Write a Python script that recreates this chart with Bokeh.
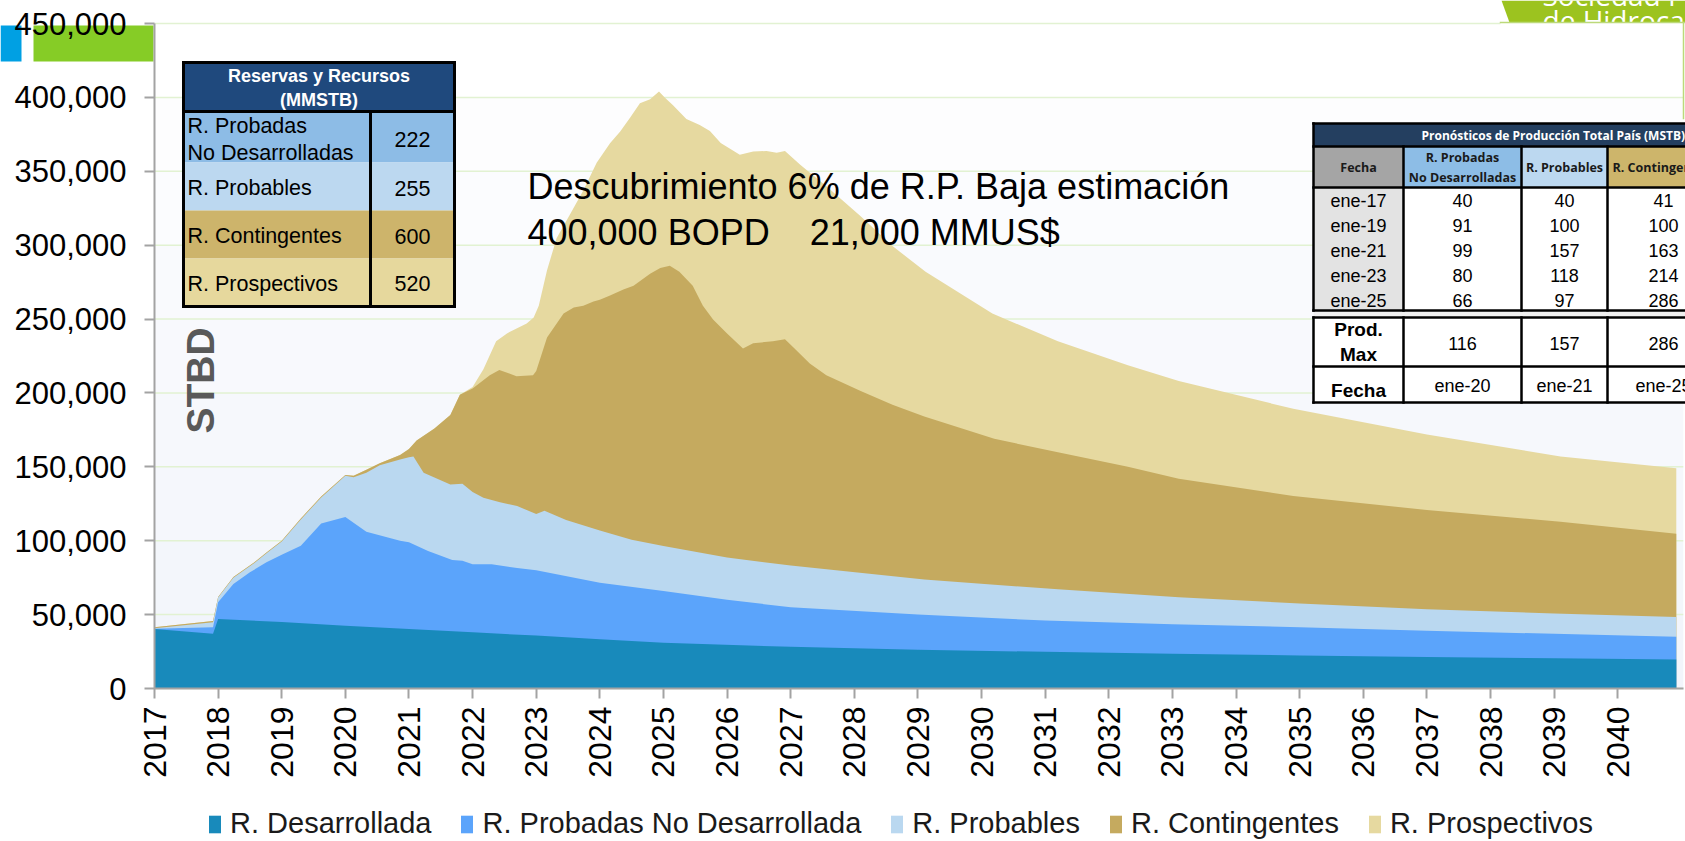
import numpy as np
from bokeh.plotting import figure
from bokeh.models import (Range1d, FixedTicker, NumeralTickFormatter, Label,
                          BoxAnnotation, PolyAnnotation, Legend, LegendItem,
                          ColumnDataSource)
from bokeh.embed import file_html
from bokeh.resources import INLINE

# ---------------- data: cumulative stack tops, thousand STBD ----------------
SCALE = 1000

# R. Desarrollada (top of stack level 1)
t_des = [2017.0, 2017.92, 2018.0, 2019.0, 2020.0, 2021.0, 2022.0, 2023.0, 2024.0,
         2025.0, 2027.0, 2029.0, 2031.0, 2033.0, 2035.0, 2037.0, 2039.0, 2040.92]
cum_des = [40.3, 37.0, 47.0, 45.0, 42.5, 40.3, 38.0, 35.8, 33.4,
           31.0, 28.2, 26.3, 24.8, 23.5, 22.4, 21.4, 20.5, 19.6]

# + R. Probadas No Desarrollada
t_pnd = [2017.0, 2017.92, 2018.0, 2018.24, 2018.5, 2018.76, 2019.0, 2019.3, 2019.62, 2020.0,
         2020.33, 2020.86, 2021.0, 2021.3, 2021.68, 2021.84, 2022.0, 2022.3, 2022.7, 2023.0,
         2024.0, 2025.0, 2026.0, 2027.0, 2029.0, 2031.0, 2033.0, 2035.0, 2037.0, 2039.0, 2040.92]
cum_pnd = [40.5, 41.5, 58.3, 70.7, 78.6, 85.4, 90.5, 96.6, 111.7, 116.0,
           106.0, 100.0, 99.0, 93.0, 87.0, 86.5, 84.0, 84.0, 81.5, 80.0,
           71.5, 66.0, 60.0, 55.0, 50.0, 46.0, 43.5, 41.5, 39.0, 37.0, 35.0]

# + R. Probables
t_prob = [2017.0, 2017.92, 2018.0, 2018.24, 2018.57, 2018.76, 2019.0, 2019.3, 2019.62, 2020.0,
          2020.13, 2020.33, 2020.54, 2020.86, 2021.0, 2021.07, 2021.23, 2021.65, 2021.84, 2022.0,
          2022.17, 2022.43, 2022.7, 2023.0, 2023.13, 2023.47, 2024.0, 2024.5, 2025.0, 2026.0,
          2027.0, 2029.1, 2031.2, 2033.1, 2035.0, 2037.0, 2039.0, 2040.92]
cum_prob = [40.7, 44.8, 61.6, 75.0, 85.0, 91.5, 99.5, 114.4, 129.3, 143.9,
            143.0, 146.0, 151.0, 155.0, 156.5, 157.0, 146.0, 138.0, 138.5, 133.0,
            129.0, 126.0, 123.5, 118.0, 120.2, 114.0, 107.0, 100.7, 96.5, 88.6,
            83.2, 73.8, 67.1, 61.8, 57.5, 53.7, 50.8, 48.3]

# + R. Contingentes
t_cont = [2017.0, 2017.92, 2018.0, 2018.24, 2018.57, 2018.76, 2019.0, 2019.3, 2019.62, 2020.0,
          2020.13, 2020.33, 2020.54, 2020.86, 2021.0, 2021.12, 2021.4, 2021.65, 2021.8, 2022.0,
          2022.27, 2022.42, 2022.69, 2022.95, 2023.0, 2023.17, 2023.43, 2023.59, 2023.74, 2023.9,
          2024.0, 2024.16, 2024.37, 2024.53, 2024.79, 2024.95, 2025.1, 2025.25, 2025.46, 2025.62,
          2025.78, 2026.0, 2026.25, 2026.41, 2026.72, 2026.91, 2027.04, 2027.3, 2027.56, 2028.1,
          2028.6, 2029.1, 2030.2, 2031.2, 2032.3, 2033.1, 2034.9, 2037.0, 2039.1, 2040.92]
cum_cont = [41.5, 45.7, 62.0, 75.5, 85.5, 92.0, 100.0, 115.0, 130.0, 144.5,
            144.0, 148.0, 152.5, 158.0, 162.0, 167.8, 176.0, 185.0, 198.7, 203.0,
            212.0, 215.6, 211.3, 212.0, 214.8, 237.6, 253.7, 257.8, 259.0, 261.8,
            263.0, 266.0, 270.0, 272.5, 280.6, 284.6, 286.0, 282.0, 272.5, 259.0,
            249.7, 240.3, 230.0, 233.6, 235.0, 236.3, 230.9, 220.0, 212.0, 201.4,
            192.0, 184.0, 169.0, 159.8, 150.0, 142.0, 130.2, 120.8, 112.8, 104.7]

# + R. Prospectivos (total)
t_pros = [2017.0, 2017.92, 2018.0, 2018.24, 2018.57, 2018.76, 2019.0, 2019.3, 2019.62, 2020.0,
          2020.13, 2020.33, 2020.54, 2020.86, 2021.0, 2021.12, 2021.4, 2021.65, 2021.8, 2022.0,
          2022.17, 2022.37, 2022.54, 2022.85, 2022.96, 2023.04, 2023.17, 2023.32, 2023.53, 2023.74,
          2023.95, 2024.16, 2024.32, 2024.48, 2024.63, 2024.79, 2024.93, 2025.02, 2025.15, 2025.36,
          2025.57, 2025.73, 2025.9, 2026.2, 2026.41, 2026.62, 2026.78, 2026.91, 2027.15, 2027.57,
          2028.1, 2028.6, 2029.12, 2030.17, 2031.2, 2032.3, 2033.1, 2034.9, 2037.0, 2039.1, 2040.92]
cum_pros = [41.5, 45.7, 62.0, 75.5, 85.5, 92.0, 100.0, 115.0, 130.0, 144.5,
            144.0, 148.0, 152.5, 158.0, 162.0, 167.8, 176.0, 185.0, 198.7, 204.0,
            216.0, 235.0, 240.3, 247.0, 251.0, 259.0, 283.0, 304.7, 320.8, 337.0,
            355.8, 369.0, 377.0, 386.6, 396.0, 398.7, 404.0, 400.0, 394.7, 385.3,
            381.3, 377.2, 369.2, 361.1, 363.3, 363.8, 362.5, 363.8, 354.4, 339.6,
            319.5, 299.4, 282.0, 253.7, 235.0, 218.8, 208.0, 189.3, 171.8, 157.0, 149.0]

series_names = ["R. Desarrollada", "R. Probadas No Desarrollada", "R. Probables",
                "R. Contingentes", "R. Prospectivos"]
series_colors = ["#188abb", "#5ba4fb", "#bad8f0", "#c5aa5f", "#e6d9a0"]

years = list(range(2017, 2041))
y_ticks = list(range(0, 450001, 50000))

# table 1
t1_title = ["Reservas y Recursos", "(MMSTB)"]
t1_labels = [["R. Probadas", "No Desarrolladas"], ["R. Probables"], ["R. Contingentes"], ["R. Prospectivos"]]
t1_values = ["222", "255", "600", "520"]
t1_colors = ["#8dbce6", "#bcd8f0", "#cdb46b", "#e6d89d"]

# table 2
t2_title = "Pronósticos de Producción Total País (MSTB)"
t2_dates = ["ene-17", "ene-19", "ene-21", "ene-23", "ene-25"]
t2_pnd = ["40", "91", "99", "80", "66"]
t2_prob = ["40", "100", "157", "118", "97"]
t2_cont = ["41", "100", "163", "214", "286"]
t2_max = ["116", "157", "286"]
t2_max_date = ["ene-20", "ene-21", "ene-25"]

NB = "\u00a0"
annot_lines = ["Descubrimiento 6% de R.P. Baja estimación",
               "400,000 BOPD" + NB * 4 + "21,000 MMUS$"]
logo_lines = ["Sociedad Peruana", "de Hidrocarburos"]

# ---------------- figure: frame covers the whole canvas ----------------
W, H = 1685, 841
AX_L, AX_T, AX_B = 154, 23, 688      # page px of 2017 / 450,000 / 0
PX_PER_YEAR = 63.62
V_PER_PX = 450000 / (AX_B - AX_T)
X_AXIS_END = 2041.03

x0 = 2017 - AX_L / PX_PER_YEAR
x1 = x0 + W / PX_PER_YEAR
y1 = AX_B * V_PER_PX
y0 = -(H - AX_B) * V_PER_PX

p = figure(width=W, height=H, output_backend="svg", toolbar_location=None, title=None,
           x_range=Range1d(x0, x1), y_range=Range1d(y0, y1),
           min_border_left=0, min_border_right=0, min_border_top=0, min_border_bottom=0,
           background_fill_color="#ffffff", border_fill_color="#ffffff",
           outline_line_color=None)
p.xgrid.visible = False
p.ygrid.visible = False

# light background gradient bands inside the chart area
band_colors = ["#f2f5fb", "#f3f6fb", "#f5f7fc", "#f6f8fc", "#f8f9fd",
               "#f9fafd", "#fbfcfe", "#fdfdfe", "#ffffff"]
for k, c in enumerate(band_colors):
    p.add_layout(BoxAnnotation(left=2017, right=X_AXIS_END,
                               bottom=y_ticks[k], top=y_ticks[k] + 50000,
                               fill_color=c, fill_alpha=1, line_color=None, level="image"))

# horizontal grid lines
p.segment(x0=[2017] * len(y_ticks), x1=[X_AXIS_END] * len(y_ticks), y0=y_ticks, y1=y_ticks,
          line_color="#e2f2d2", line_width=1.5, level="underlay")

# stacked areas, painted from the top level down
renderers = {}
stack = [(t_pros, cum_pros, 4), (t_cont, cum_cont, 3), (t_prob, cum_prob, 2),
         (t_pnd, cum_pnd, 1), (t_des, cum_des, 0)]
for t, v, idx in stack:
    src = ColumnDataSource(dict(x=t, y1=[0] * len(t), y2=[val * SCALE for val in v]))
    renderers[idx] = p.varea(x="x", y1="y1", y2="y2", source=src,
                             fill_color=series_colors[idx], fill_alpha=1)

# axes drawn at fixed locations inside the full-canvas frame
FONT = "Liberation Sans"
p.xaxis.fixed_location = 0
p.yaxis.fixed_location = 2017
p.xaxis.bounds = (2017, X_AXIS_END)
p.yaxis.bounds = (0, 450000)
p.xaxis.ticker = FixedTicker(ticks=years)
p.xaxis.major_label_orientation = np.pi / 2
p.xaxis.major_label_standoff = 8
p.xaxis.major_label_text_font_size = "32px"
p.yaxis.ticker = FixedTicker(ticks=y_ticks)
p.yaxis.formatter = NumeralTickFormatter(format="0,0")
p.yaxis.major_label_standoff = 18
p.yaxis.major_label_text_font_size = "31px"
for ax in (p.xaxis, p.yaxis):
    ax.major_label_text_font = FONT
    ax.major_label_text_color = "#000000"
    ax.axis_line_color = "#a3a3a3"
    ax.axis_line_width = 2
    ax.major_tick_line_color = "#a3a3a3"
    ax.major_tick_line_width = 2
    ax.major_tick_out = 10
    ax.major_tick_in = 0
    ax.minor_tick_line_color = None


# ---------------- helpers in page pixel coordinates ----------------
def sx(X):
    return X


def sy(Y):
    return H - Y


def box(xa, ya, xb, yb, fill, level="annotation"):
    p.add_layout(BoxAnnotation(left=sx(xa), right=sx(xb), top=sy(ya), bottom=sy(yb),
                               left_units="screen", right_units="screen",
                               top_units="screen", bottom_units="screen",
                               fill_color=fill, fill_alpha=1, line_color=None, level=level))


def hline(xa, xb, y, w=2.5, color="#000000"):
    box(xa - w / 2, y - w / 2, xb + w / 2, y + w / 2, color)


def vline(x, ya, yb, w=2.5, color="#000000"):
    box(x - w / 2, ya - w / 2, x + w / 2, yb + w / 2, color)


def text(X, Y, s, size, bold=False, color="#000000", align="center", font=FONT,
         baseline="middle", angle=0.0):
    p.add_layout(Label(x=sx(X), y=sy(Y), x_units="screen", y_units="screen", text=s,
                       text_font=font, text_font_size=f"{size}px",
                       text_font_style="bold" if bold else "normal",
                       text_color=color, text_align=align, text_baseline=baseline,
                       angle=angle))


# slide decorations (top-left bars, top-right logo strip)
box(0, 25, 21, 61, "#00a0e3", level="image")
box(33, 25, 153, 61, "#86cc26", level="image")
p.add_layout(PolyAnnotation(xs=[sx(1501), sx(1700), sx(1700), sx(1509)],
                            ys=[sy(0), sy(0), sy(22), sy(22)],
                            xs_units="screen", ys_units="screen",
                            fill_color="#9cc31f", fill_alpha=1, line_color=None))
text(1542, -6, logo_lines[0], 28, color="#ffffff", align="left", font="Open Sans")
text(1542, 19, logo_lines[1], 28, color="#ffffff", align="left", font="Open Sans")
box(1500, 22, 1700, 45, "#ffffff")
hline(1500, 1700, 22, w=1.5, color="#bcd97a")
vline(1683, 22, 118, w=1.5, color="#bcd97a")

# STBD label
text(200, 380, "STBD", 39, bold=True, color="#595959", angle=np.pi / 2)

# annotation
text(527, 186, annot_lines[0], 36, align="left")
text(527, 232, annot_lines[1], 36, align="left")

# ---------------- table 1 ----------------
T1X0, T1X1, T1XD = 183, 454, 370
t1_rows = [111, 162, 210, 258, 306]
box(T1X0, 62, T1X1, 111, "#1f497d")
for i, c in enumerate(t1_colors):
    box(T1X0, t1_rows[i], T1X1, t1_rows[i + 1], c)
hline(T1X0, T1X1, 62, 3)
hline(T1X0, T1X1, 111, 3)
hline(T1X0, T1X1, 306, 3)
vline(T1X0, 62, 306, 3)
vline(T1X1, 62, 306, 3)
vline(T1XD, 111, 306, 3)
text((T1X0 + T1X1) / 2, 75, t1_title[0], 18, bold=True, color="#ffffff")
text((T1X0 + T1X1) / 2, 99, t1_title[1], 18, bold=True, color="#ffffff")
t1_label_y = [[125, 152], [187.5], [235.5], [283]]
t1_value_y = [139, 187.5, 235.5, 283]
for labels, ys, val, vy in zip(t1_labels, t1_label_y, t1_values, t1_value_y):
    for lab, yy in zip(labels, ys):
        text(187, yy, lab, 21.5, align="left")
    text((T1XD + T1X1) / 2, vy, val, 21.5)

# ---------------- table 2 ----------------
T2X = [1313, 1403, 1521, 1607, 1720]
T2_END = 1720
HF = "Open Sans"
box(T2X[0], 123, T2_END, 146, "#243f60")
for i, c in enumerate(["#a5a5a5", "#8dbde6", "#bcd8f0", "#cdb56b"]):
    box(T2X[i], 146, T2X[i + 1], 187, c)
box(T2X[0], 187, T2X[1], 310, "#e3e3e3")
box(T2X[1], 187, T2_END, 310, "#ffffff")
box(T2X[0], 310, T2_END, 317, "#efefef")
box(T2X[0], 317, T2_END, 402, "#ffffff")
for yy in [123, 146, 187, 310, 317, 366, 402]:
    hline(T2X[0], T2_END, yy)
vline(T2X[0], 123, 310)
vline(T2X[0], 317, 402)
for xx in T2X[1:4]:
    vline(xx, 146, 310)
    vline(xx, 317, 402)

text(1421, 134.5, t2_title, 12, bold=True, color="#ffffff", align="left", font=HF)
text(1358, 167, "Fecha", 12.5, bold=True, color="#1a1a1a", font=HF)
text(1462, 157, "R. Probadas", 12.5, bold=True, color="#1a1a1a", font=HF)
text(1462, 177, "No Desarrolladas", 12.5, bold=True, color="#1a1a1a", font=HF)
text(1564, 167, "R. Probables", 12.5, bold=True, color="#1a1a1a", font=HF)
text(1612, 167, "R. Contingentes", 12.5, bold=True, color="#1a1a1a", align="left", font=HF)

col_cx = [1358, 1462, 1564, 1663]
row_y = [200, 225, 250, 275, 300]
for i, yy in enumerate(row_y):
    text(col_cx[0], yy, t2_dates[i], 18)
    text(col_cx[1], yy, t2_pnd[i], 18)
    text(col_cx[2], yy, t2_prob[i], 18)
    text(col_cx[3], yy, t2_cont[i], 18)
text(col_cx[0], 329, "Prod.", 19, bold=True)
text(col_cx[0], 354, "Max", 19, bold=True)
text(col_cx[0], 390, "Fecha", 19, bold=True)
for j in range(3):
    text(col_cx[j + 1], 343, t2_max[j], 18)
    text(col_cx[j + 1], 385, t2_max_date[j], 18)

# ---------------- legend ----------------
legend = Legend(items=[LegendItem(label=series_names[i], renderers=[renderers[i]]) for i in range(5)],
                orientation="horizontal", location=(207, 1),
                label_text_font=FONT, label_text_font_size="29px", label_text_color="#1a1a1a",
                glyph_width=15, glyph_height=22, label_standoff=8, spacing=28,
                padding=0, margin=0, border_line_color=None, background_fill_alpha=0)
p.add_layout(legend)

open("out.html", "w").write(file_html(p, INLINE))
